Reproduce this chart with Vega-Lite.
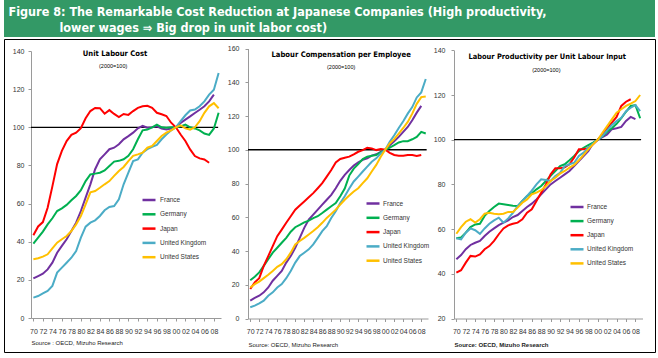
{
"$schema": "https://vega.github.io/schema/vega-lite/v6.json",
"padding": {"left": 3, "top": 0, "right": 4, "bottom": 7},
"background": "white",
"spacing": 1,
"config": {"view": {"stroke": null}, "font": "Liberation Sans"},
"datasets": {
"ulc": [
{"country":"France","year":1970,"value":20.8},{"country":"France","year":1971,"value":22},{"country":"France","year":1972,"value":23.2},{"country":"France","year":1973,"value":25.5},{"country":"France","year":1974,"value":29},{"country":"France","year":1975,"value":34.2},{"country":"France","year":1976,"value":37.8},{"country":"France","year":1977,"value":41.3},{"country":"France","year":1978,"value":45.6},{"country":"France","year":1979,"value":50},
{"country":"France","year":1980,"value":56.1},{"country":"France","year":1981,"value":63.1},{"country":"France","year":1982,"value":70.1},{"country":"France","year":1983,"value":78},{"country":"France","year":1984,"value":83.2},{"country":"France","year":1985,"value":85.8},{"country":"France","year":1986,"value":88.5},{"country":"France","year":1987,"value":89.3},{"country":"France","year":1988,"value":91.1},{"country":"France","year":1989,"value":93.7},
{"country":"France","year":1990,"value":95.4},{"country":"France","year":1991,"value":97.2},{"country":"France","year":1992,"value":99.5},{"country":"France","year":1993,"value":100.7},{"country":"France","year":1994,"value":99.8},{"country":"France","year":1995,"value":100},{"country":"France","year":1996,"value":100.5},{"country":"France","year":1997,"value":99.4},{"country":"France","year":1998,"value":98.8},{"country":"France","year":1999,"value":99.4},
{"country":"France","year":2000,"value":100},{"country":"France","year":2001,"value":102.3},{"country":"France","year":2002,"value":104},{"country":"France","year":2003,"value":105.7},{"country":"France","year":2004,"value":107.5},{"country":"France","year":2005,"value":109.2},{"country":"France","year":2006,"value":111},{"country":"France","year":2007,"value":113.6},{"country":"France","year":2008,"value":117.1},
{"country":"Germany","year":1970,"value":39},{"country":"Germany","year":1971,"value":42.1},{"country":"Germany","year":1972,"value":45.3},{"country":"Germany","year":1973,"value":49.1},{"country":"Germany","year":1974,"value":52.3},{"country":"Germany","year":1975,"value":56.1},{"country":"Germany","year":1976,"value":57.5},{"country":"Germany","year":1977,"value":59.3},{"country":"Germany","year":1978,"value":61.7},{"country":"Germany","year":1979,"value":64},
{"country":"Germany","year":1980,"value":67},{"country":"Germany","year":1981,"value":71.8},{"country":"Germany","year":1982,"value":75.3},{"country":"Germany","year":1983,"value":75.7},{"country":"Germany","year":1984,"value":76.2},{"country":"Germany","year":1985,"value":77.4},{"country":"Germany","year":1986,"value":79.7},{"country":"Germany","year":1987,"value":82},{"country":"Germany","year":1988,"value":82.4},{"country":"Germany","year":1989,"value":83.2},
{"country":"Germany","year":1990,"value":85},{"country":"Germany","year":1991,"value":88.5},{"country":"Germany","year":1992,"value":93.7},{"country":"Germany","year":1993,"value":98.4},{"country":"Germany","year":1994,"value":98.8},{"country":"Germany","year":1995,"value":100},{"country":"Germany","year":1996,"value":101.4},{"country":"Germany","year":1997,"value":100},{"country":"Germany","year":1998,"value":99.7},{"country":"Germany","year":1999,"value":100},
{"country":"Germany","year":2000,"value":100},{"country":"Germany","year":2001,"value":100.5},{"country":"Germany","year":2002,"value":101.4},{"country":"Germany","year":2003,"value":100},{"country":"Germany","year":2004,"value":99.4},{"country":"Germany","year":2005,"value":98.4},{"country":"Germany","year":2006,"value":96.7},{"country":"Germany","year":2007,"value":96},{"country":"Germany","year":2008,"value":99.4},{"country":"Germany","year":2009,"value":107.6},
{"country":"Japan","year":1970,"value":43.4},{"country":"Japan","year":1971,"value":48},{"country":"Japan","year":1972,"value":50.3},{"country":"Japan","year":1973,"value":57.8},{"country":"Japan","year":1974,"value":69},{"country":"Japan","year":1975,"value":80.7},{"country":"Japan","year":1976,"value":87.6},{"country":"Japan","year":1977,"value":92.8},{"country":"Japan","year":1978,"value":96},{"country":"Japan","year":1979,"value":97.2},
{"country":"Japan","year":1980,"value":99.5},{"country":"Japan","year":1981,"value":104.7},{"country":"Japan","year":1982,"value":108.5},{"country":"Japan","year":1983,"value":110.1},{"country":"Japan","year":1984,"value":110},{"country":"Japan","year":1985,"value":107.1},{"country":"Japan","year":1986,"value":109},{"country":"Japan","year":1987,"value":107},{"country":"Japan","year":1988,"value":105.4},{"country":"Japan","year":1989,"value":107},
{"country":"Japan","year":1990,"value":106.5},{"country":"Japan","year":1991,"value":108.5},{"country":"Japan","year":1992,"value":110.2},{"country":"Japan","year":1993,"value":111},{"country":"Japan","year":1994,"value":111.3},{"country":"Japan","year":1995,"value":110.2},{"country":"Japan","year":1996,"value":107.6},{"country":"Japan","year":1997,"value":106.8},{"country":"Japan","year":1998,"value":105.9},{"country":"Japan","year":1999,"value":102.4},
{"country":"Japan","year":2000,"value":100},{"country":"Japan","year":2001,"value":96.2},{"country":"Japan","year":2002,"value":92.8},{"country":"Japan","year":2003,"value":88.4},{"country":"Japan","year":2004,"value":84.9},{"country":"Japan","year":2005,"value":83.7},{"country":"Japan","year":2006,"value":83.1},{"country":"Japan","year":2007,"value":81.4},
{"country":"United Kingdom","year":1970,"value":10.7},{"country":"United Kingdom","year":1971,"value":11.5},{"country":"United Kingdom","year":1972,"value":12.9},{"country":"United Kingdom","year":1973,"value":14.2},{"country":"United Kingdom","year":1974,"value":16.8},{"country":"United Kingdom","year":1975,"value":23.8},{"country":"United Kingdom","year":1976,"value":26.4},{"country":"United Kingdom","year":1977,"value":29},{"country":"United Kingdom","year":1978,"value":31.6},{"country":"United Kingdom","year":1979,"value":35.1},
{"country":"United Kingdom","year":1980,"value":42.1},{"country":"United Kingdom","year":1981,"value":47.9},{"country":"United Kingdom","year":1982,"value":50},{"country":"United Kingdom","year":1983,"value":51.2},{"country":"United Kingdom","year":1984,"value":53.5},{"country":"United Kingdom","year":1985,"value":56.5},{"country":"United Kingdom","year":1986,"value":58.2},{"country":"United Kingdom","year":1987,"value":58.7},{"country":"United Kingdom","year":1988,"value":62.2},{"country":"United Kingdom","year":1989,"value":70.1},
{"country":"United Kingdom","year":1990,"value":76.2},{"country":"United Kingdom","year":1991,"value":82.3},{"country":"United Kingdom","year":1992,"value":83.2},{"country":"United Kingdom","year":1993,"value":86.7},{"country":"United Kingdom","year":1994,"value":88.5},{"country":"United Kingdom","year":1995,"value":89.7},{"country":"United Kingdom","year":1996,"value":90.8},{"country":"United Kingdom","year":1997,"value":93.7},{"country":"United Kingdom","year":1998,"value":96.2},{"country":"United Kingdom","year":1999,"value":98.4},
{"country":"United Kingdom","year":2000,"value":100},{"country":"United Kingdom","year":2001,"value":103.2},{"country":"United Kingdom","year":2002,"value":106.3},{"country":"United Kingdom","year":2003,"value":108.8},{"country":"United Kingdom","year":2004,"value":109.3},{"country":"United Kingdom","year":2005,"value":111},{"country":"United Kingdom","year":2006,"value":113.6},{"country":"United Kingdom","year":2007,"value":117.1},{"country":"United Kingdom","year":2008,"value":119.7},{"country":"United Kingdom","year":2009,"value":128.5},
{"country":"United States","year":1970,"value":30.8},{"country":"United States","year":1971,"value":31.3},{"country":"United States","year":1972,"value":32.2},{"country":"United States","year":1973,"value":33.4},{"country":"United States","year":1974,"value":36.5},{"country":"United States","year":1975,"value":39.5},{"country":"United States","year":1976,"value":41.3},{"country":"United States","year":1977,"value":43},{"country":"United States","year":1978,"value":45.6},{"country":"United States","year":1979,"value":49.1},
{"country":"United States","year":1980,"value":53.5},{"country":"United States","year":1981,"value":59.6},{"country":"United States","year":1982,"value":65.9},{"country":"United States","year":1983,"value":66.6},{"country":"United States","year":1984,"value":68.3},{"country":"United States","year":1985,"value":70.1},{"country":"United States","year":1986,"value":71.8},{"country":"United States","year":1987,"value":74.5},{"country":"United States","year":1988,"value":77.1},{"country":"United States","year":1989,"value":79.2},
{"country":"United States","year":1990,"value":82.3},{"country":"United States","year":1991,"value":85},{"country":"United States","year":1992,"value":85.8},{"country":"United States","year":1993,"value":86.7},{"country":"United States","year":1994,"value":89.3},{"country":"United States","year":1995,"value":90.2},{"country":"United States","year":1996,"value":92.8},{"country":"United States","year":1997,"value":95.4},{"country":"United States","year":1998,"value":97.2},{"country":"United States","year":1999,"value":98.4},
{"country":"United States","year":2000,"value":100},{"country":"United States","year":2001,"value":101},{"country":"United States","year":2002,"value":99.4},{"country":"United States","year":2003,"value":98.8},{"country":"United States","year":2004,"value":100},{"country":"United States","year":2005,"value":103.2},{"country":"United States","year":2006,"value":107.6},{"country":"United States","year":2007,"value":111},{"country":"United States","year":2008,"value":112.7},{"country":"United States","year":2009,"value":110}
],
"comp": [
{"country":"France","year":1970,"value":10.6},{"country":"France","year":1971,"value":12.2},{"country":"France","year":1972,"value":13.5},{"country":"France","year":1973,"value":15.5},{"country":"France","year":1974,"value":18.4},{"country":"France","year":1975,"value":22.4},{"country":"France","year":1976,"value":25.3},{"country":"France","year":1977,"value":28.2},{"country":"France","year":1978,"value":33.1},{"country":"France","year":1979,"value":37},
{"country":"France","year":1980,"value":41.9},{"country":"France","year":1981,"value":47.8},{"country":"France","year":1982,"value":53.7},{"country":"France","year":1983,"value":58.6},{"country":"France","year":1984,"value":61.6},{"country":"France","year":1985,"value":64.5},{"country":"France","year":1986,"value":67.5},{"country":"France","year":1987,"value":70.4},{"country":"France","year":1988,"value":73.3},{"country":"France","year":1989,"value":77.2},
{"country":"France","year":1990,"value":81.6},{"country":"France","year":1991,"value":85.1},{"country":"France","year":1992,"value":88},{"country":"France","year":1993,"value":90.6},{"country":"France","year":1994,"value":92.5},{"country":"France","year":1995,"value":94},{"country":"France","year":1996,"value":94.9},{"country":"France","year":1997,"value":96.5},{"country":"France","year":1998,"value":97.3},{"country":"France","year":1999,"value":98.8},
{"country":"France","year":2000,"value":100},{"country":"France","year":2001,"value":102.7},{"country":"France","year":2002,"value":105.1},{"country":"France","year":2003,"value":107.6},{"country":"France","year":2004,"value":110.6},{"country":"France","year":2005,"value":113.5},{"country":"France","year":2006,"value":117.5},{"country":"France","year":2007,"value":122},{"country":"France","year":2008,"value":126},
{"country":"Germany","year":1970,"value":22.7},{"country":"Germany","year":1971,"value":24.7},{"country":"Germany","year":1972,"value":27.3},{"country":"Germany","year":1973,"value":31.2},{"country":"Germany","year":1974,"value":35.1},{"country":"Germany","year":1975,"value":39},{"country":"Germany","year":1976,"value":41.9},{"country":"Germany","year":1977,"value":44.9},{"country":"Germany","year":1978,"value":47.8},{"country":"Germany","year":1979,"value":51.4},
{"country":"Germany","year":1980,"value":54.1},{"country":"Germany","year":1981,"value":55.5},{"country":"Germany","year":1982,"value":57},{"country":"Germany","year":1983,"value":58},{"country":"Germany","year":1984,"value":59.5},{"country":"Germany","year":1985,"value":60.6},{"country":"Germany","year":1986,"value":62.5},{"country":"Germany","year":1987,"value":64.5},{"country":"Germany","year":1988,"value":66.5},{"country":"Germany","year":1989,"value":68.4},
{"country":"Germany","year":1990,"value":72.4},{"country":"Germany","year":1991,"value":77},{"country":"Germany","year":1992,"value":84.7},{"country":"Germany","year":1993,"value":88.8},{"country":"Germany","year":1994,"value":91.5},{"country":"Germany","year":1995,"value":94.5},{"country":"Germany","year":1996,"value":95.9},{"country":"Germany","year":1997,"value":96.5},{"country":"Germany","year":1998,"value":96.9},{"country":"Germany","year":1999,"value":98.4},
{"country":"Germany","year":2000,"value":100},{"country":"Germany","year":2001,"value":101.2},{"country":"Germany","year":2002,"value":102.7},{"country":"Germany","year":2003,"value":104.3},{"country":"Germany","year":2004,"value":105.1},{"country":"Germany","year":2005,"value":105.1},{"country":"Germany","year":2006,"value":106.2},{"country":"Germany","year":2007,"value":107.6},{"country":"Germany","year":2008,"value":110.6},{"country":"Germany","year":2009,"value":109.6},
{"country":"Japan","year":1970,"value":17.5},{"country":"Japan","year":1971,"value":21.4},{"country":"Japan","year":1972,"value":23.9},{"country":"Japan","year":1973,"value":31.2},{"country":"Japan","year":1974,"value":37},{"country":"Japan","year":1975,"value":42.9},{"country":"Japan","year":1976,"value":48.8},{"country":"Japan","year":1977,"value":52.7},{"country":"Japan","year":1978,"value":56.7},{"country":"Japan","year":1979,"value":60.6},
{"country":"Japan","year":1980,"value":64.5},{"country":"Japan","year":1981,"value":67},{"country":"Japan","year":1982,"value":69.4},{"country":"Japan","year":1983,"value":71.8},{"country":"Japan","year":1984,"value":74.3},{"country":"Japan","year":1985,"value":77.2},{"country":"Japan","year":1986,"value":80.2},{"country":"Japan","year":1987,"value":84.1},{"country":"Japan","year":1988,"value":88},{"country":"Japan","year":1989,"value":92.5},
{"country":"Japan","year":1990,"value":94.5},{"country":"Japan","year":1991,"value":95.3},{"country":"Japan","year":1992,"value":95.9},{"country":"Japan","year":1993,"value":97.3},{"country":"Japan","year":1994,"value":98.8},{"country":"Japan","year":1995,"value":99.8},{"country":"Japan","year":1996,"value":101.2},{"country":"Japan","year":1997,"value":100.8},{"country":"Japan","year":1998,"value":99.8},{"country":"Japan","year":1999,"value":100.4},
{"country":"Japan","year":2000,"value":100},{"country":"Japan","year":2001,"value":98.2},{"country":"Japan","year":2002,"value":96.9},{"country":"Japan","year":2003,"value":96.5},{"country":"Japan","year":2004,"value":96.5},{"country":"Japan","year":2005,"value":96.9},{"country":"Japan","year":2006,"value":96.9},{"country":"Japan","year":2007,"value":96.3},{"country":"Japan","year":2008,"value":96.9},
{"country":"United Kingdom","year":1970,"value":6.7},{"country":"United Kingdom","year":1971,"value":7.6},{"country":"United Kingdom","year":1972,"value":9},{"country":"United Kingdom","year":1973,"value":10.6},{"country":"United Kingdom","year":1974,"value":13.5},{"country":"United Kingdom","year":1975,"value":15.5},{"country":"United Kingdom","year":1976,"value":18.4},{"country":"United Kingdom","year":1977,"value":20.4},{"country":"United Kingdom","year":1978,"value":23.9},{"country":"United Kingdom","year":1979,"value":28.2},
{"country":"United Kingdom","year":1980,"value":33.1},{"country":"United Kingdom","year":1981,"value":37},{"country":"United Kingdom","year":1982,"value":39},{"country":"United Kingdom","year":1983,"value":41},{"country":"United Kingdom","year":1984,"value":43.9},{"country":"United Kingdom","year":1985,"value":47.8},{"country":"United Kingdom","year":1986,"value":51.8},{"country":"United Kingdom","year":1987,"value":54.7},{"country":"United Kingdom","year":1988,"value":59.6},{"country":"United Kingdom","year":1989,"value":63.5},
{"country":"United Kingdom","year":1990,"value":68.4},{"country":"United Kingdom","year":1991,"value":72.4},{"country":"United Kingdom","year":1992,"value":77},{"country":"United Kingdom","year":1993,"value":81.2},{"country":"United Kingdom","year":1994,"value":84.1},{"country":"United Kingdom","year":1995,"value":87.1},{"country":"United Kingdom","year":1996,"value":90},{"country":"United Kingdom","year":1997,"value":92.9},{"country":"United Kingdom","year":1998,"value":94.9},{"country":"United Kingdom","year":1999,"value":97.8},
{"country":"United Kingdom","year":2000,"value":100},{"country":"United Kingdom","year":2001,"value":104.7},{"country":"United Kingdom","year":2002,"value":108.6},{"country":"United Kingdom","year":2003,"value":112.9},{"country":"United Kingdom","year":2004,"value":116.9},{"country":"United Kingdom","year":2005,"value":121.4},{"country":"United Kingdom","year":2006,"value":125.3},{"country":"United Kingdom","year":2007,"value":131},{"country":"United Kingdom","year":2008,"value":134},{"country":"United Kingdom","year":2009,"value":141.9},
{"country":"United States","year":1970,"value":18.4},{"country":"United States","year":1971,"value":20.4},{"country":"United States","year":1972,"value":21.9},{"country":"United States","year":1973,"value":23.9},{"country":"United States","year":1974,"value":25.9},{"country":"United States","year":1975,"value":28.2},{"country":"United States","year":1976,"value":30.6},{"country":"United States","year":1977,"value":32.2},{"country":"United States","year":1978,"value":35.1},{"country":"United States","year":1979,"value":39},
{"country":"United States","year":1980,"value":43.9},{"country":"United States","year":1981,"value":45.9},{"country":"United States","year":1982,"value":47.8},{"country":"United States","year":1983,"value":49.8},{"country":"United States","year":1984,"value":51.8},{"country":"United States","year":1985,"value":54.1},{"country":"United States","year":1986,"value":56.7},{"country":"United States","year":1987,"value":59.6},{"country":"United States","year":1988,"value":62},{"country":"United States","year":1989,"value":64.5},
{"country":"United States","year":1990,"value":67.5},{"country":"United States","year":1991,"value":70.4},{"country":"United States","year":1992,"value":72.9},{"country":"United States","year":1993,"value":75.3},{"country":"United States","year":1994,"value":77.2},{"country":"United States","year":1995,"value":80.2},{"country":"United States","year":1996,"value":83.1},{"country":"United States","year":1997,"value":87.1},{"country":"United States","year":1998,"value":91},{"country":"United States","year":1999,"value":95.9},
{"country":"United States","year":2000,"value":100},{"country":"United States","year":2001,"value":103.7},{"country":"United States","year":2002,"value":106.3},{"country":"United States","year":2003,"value":109.6},{"country":"United States","year":2004,"value":112.9},{"country":"United States","year":2005,"value":116.5},{"country":"United States","year":2006,"value":121.4},{"country":"United States","year":2007,"value":127.2},{"country":"United States","year":2008,"value":131.2},{"country":"United States","year":2009,"value":131.6}
],
"prod": [
{"country":"France","year":1970,"value":46.5},{"country":"France","year":1971,"value":48.4},{"country":"France","year":1972,"value":51},{"country":"France","year":1973,"value":52.9},{"country":"France","year":1974,"value":53.9},{"country":"France","year":1975,"value":54.7},{"country":"France","year":1976,"value":56.9},{"country":"France","year":1977,"value":58.8},{"country":"France","year":1978,"value":60.3},{"country":"France","year":1979,"value":61.8},
{"country":"France","year":1980,"value":62.9},{"country":"France","year":1981,"value":63.9},{"country":"France","year":1982,"value":65.4},{"country":"France","year":1983,"value":66.3},{"country":"France","year":1984,"value":68.1},{"country":"France","year":1985,"value":69.9},{"country":"France","year":1986,"value":71.4},{"country":"France","year":1987,"value":73.3},{"country":"France","year":1988,"value":75.6},{"country":"France","year":1989,"value":77.8},
{"country":"France","year":1990,"value":80},{"country":"France","year":1991,"value":81.5},{"country":"France","year":1992,"value":83},{"country":"France","year":1993,"value":84.5},{"country":"France","year":1994,"value":86},{"country":"France","year":1995,"value":88.2},{"country":"France","year":1996,"value":90.4},{"country":"France","year":1997,"value":92.7},{"country":"France","year":1998,"value":94.9},{"country":"France","year":1999,"value":98.3},
{"country":"France","year":2000,"value":100},{"country":"France","year":2001,"value":101.2},{"country":"France","year":2002,"value":102.4},{"country":"France","year":2003,"value":104.7},{"country":"France","year":2004,"value":105.1},{"country":"France","year":2005,"value":105.7},{"country":"France","year":2006,"value":108.4},{"country":"France","year":2007,"value":110.2},{"country":"France","year":2008,"value":109.2},
{"country":"Germany","year":1970,"value":55.9},{"country":"Germany","year":1971,"value":56.3},{"country":"Germany","year":1972,"value":58.4},{"country":"Germany","year":1973,"value":60.9},{"country":"Germany","year":1974,"value":62.1},{"country":"Germany","year":1975,"value":62.4},{"country":"Germany","year":1976,"value":65.9},{"country":"Germany","year":1977,"value":68.1},{"country":"Germany","year":1978,"value":69.9},{"country":"Germany","year":1979,"value":71.4},
{"country":"Germany","year":1980,"value":71.1},{"country":"Germany","year":1981,"value":70.8},{"country":"Germany","year":1982,"value":70.5},{"country":"Germany","year":1983,"value":70.3},{"country":"Germany","year":1984,"value":72.6},{"country":"Germany","year":1985,"value":74.8},{"country":"Germany","year":1986,"value":76},{"country":"Germany","year":1987,"value":77.8},{"country":"Germany","year":1988,"value":79.3},{"country":"Germany","year":1989,"value":81.5},
{"country":"Germany","year":1990,"value":83.8},{"country":"Germany","year":1991,"value":86},{"country":"Germany","year":1992,"value":88.2},{"country":"Germany","year":1993,"value":89},{"country":"Germany","year":1994,"value":90.8},{"country":"Germany","year":1995,"value":92.7},{"country":"Germany","year":1996,"value":94.9},{"country":"Germany","year":1997,"value":96.4},{"country":"Germany","year":1998,"value":97.6},{"country":"Germany","year":1999,"value":98.7},
{"country":"Germany","year":2000,"value":100},{"country":"Germany","year":2001,"value":101.6},{"country":"Germany","year":2002,"value":103.6},{"country":"Germany","year":2003,"value":105.1},{"country":"Germany","year":2004,"value":107.1},{"country":"Germany","year":2005,"value":109.6},{"country":"Germany","year":2006,"value":112.5},{"country":"Germany","year":2007,"value":115.1},{"country":"Germany","year":2008,"value":115.5},{"country":"Germany","year":2009,"value":109.6},
{"country":"Japan","year":1970,"value":40.5},{"country":"Japan","year":1971,"value":41.6},{"country":"Japan","year":1972,"value":45},{"country":"Japan","year":1973,"value":48},{"country":"Japan","year":1974,"value":47.7},{"country":"Japan","year":1975,"value":48.7},{"country":"Japan","year":1976,"value":51},{"country":"Japan","year":1977,"value":52.4},{"country":"Japan","year":1978,"value":54.7},{"country":"Japan","year":1979,"value":57.7},
{"country":"Japan","year":1980,"value":60.3},{"country":"Japan","year":1981,"value":61.7},{"country":"Japan","year":1982,"value":62.4},{"country":"Japan","year":1983,"value":62.9},{"country":"Japan","year":1984,"value":64.4},{"country":"Japan","year":1985,"value":67.3},{"country":"Japan","year":1986,"value":68.9},{"country":"Japan","year":1987,"value":72.6},{"country":"Japan","year":1988,"value":76.3},{"country":"Japan","year":1989,"value":80},
{"country":"Japan","year":1990,"value":84.5},{"country":"Japan","year":1991,"value":87.2},{"country":"Japan","year":1992,"value":87.2},{"country":"Japan","year":1993,"value":87.6},{"country":"Japan","year":1994,"value":89},{"country":"Japan","year":1995,"value":92},{"country":"Japan","year":1996,"value":95.7},{"country":"Japan","year":1997,"value":95.7},{"country":"Japan","year":1998,"value":96.2},{"country":"Japan","year":1999,"value":98},
{"country":"Japan","year":2000,"value":100},{"country":"Japan","year":2001,"value":102.4},{"country":"Japan","year":2002,"value":105.1},{"country":"Japan","year":2003,"value":107.6},{"country":"Japan","year":2004,"value":110.2},{"country":"Japan","year":2005,"value":115.1},{"country":"Japan","year":2006,"value":117},{"country":"Japan","year":2007,"value":118.1},
{"country":"United Kingdom","year":1970,"value":55.9},{"country":"United Kingdom","year":1971,"value":55.4},{"country":"United Kingdom","year":1972,"value":58.4},{"country":"United Kingdom","year":1973,"value":60.3},{"country":"United Kingdom","year":1974,"value":59.5},{"country":"United Kingdom","year":1975,"value":57.9},{"country":"United Kingdom","year":1976,"value":60.3},{"country":"United Kingdom","year":1977,"value":62.4},{"country":"United Kingdom","year":1978,"value":63.9},{"country":"United Kingdom","year":1979,"value":65.1},
{"country":"United Kingdom","year":1980,"value":62.9},{"country":"United Kingdom","year":1981,"value":64.8},{"country":"United Kingdom","year":1982,"value":67.3},{"country":"United Kingdom","year":1983,"value":70.3},{"country":"United Kingdom","year":1984,"value":72.6},{"country":"United Kingdom","year":1985,"value":74.8},{"country":"United Kingdom","year":1986,"value":77.2},{"country":"United Kingdom","year":1987,"value":80},{"country":"United Kingdom","year":1988,"value":82.3},{"country":"United Kingdom","year":1989,"value":82},
{"country":"United Kingdom","year":1990,"value":81.5},{"country":"United Kingdom","year":1991,"value":83.8},{"country":"United Kingdom","year":1992,"value":85.2},{"country":"United Kingdom","year":1993,"value":88.2},{"country":"United Kingdom","year":1994,"value":89},{"country":"United Kingdom","year":1995,"value":89.7},{"country":"United Kingdom","year":1996,"value":92.7},{"country":"United Kingdom","year":1997,"value":94.2},{"country":"United Kingdom","year":1998,"value":96.4},{"country":"United Kingdom","year":1999,"value":98.3},
{"country":"United Kingdom","year":2000,"value":100},{"country":"United Kingdom","year":2001,"value":101.6},{"country":"United Kingdom","year":2002,"value":104.2},{"country":"United Kingdom","year":2003,"value":106.6},{"country":"United Kingdom","year":2004,"value":108.4},{"country":"United Kingdom","year":2005,"value":109.8},{"country":"United Kingdom","year":2006,"value":112.8},{"country":"United Kingdom","year":2007,"value":114.3},{"country":"United Kingdom","year":2008,"value":115.5},{"country":"United Kingdom","year":2009,"value":112.8},
{"country":"United States","year":1970,"value":57.9},{"country":"United States","year":1971,"value":60.9},{"country":"United States","year":1972,"value":63.3},{"country":"United States","year":1973,"value":64.4},{"country":"United States","year":1974,"value":62.9},{"country":"United States","year":1975,"value":64.4},{"country":"United States","year":1976,"value":66.9},{"country":"United States","year":1977,"value":67.3},{"country":"United States","year":1978,"value":66.9},{"country":"United States","year":1979,"value":66.7},
{"country":"United States","year":1980,"value":66.9},{"country":"United States","year":1981,"value":67.7},{"country":"United States","year":1982,"value":67.7},{"country":"United States","year":1983,"value":69.6},{"country":"United States","year":1984,"value":71.8},{"country":"United States","year":1985,"value":73.3},{"country":"United States","year":1986,"value":75.6},{"country":"United States","year":1987,"value":76.3},{"country":"United States","year":1988,"value":77.4},{"country":"United States","year":1989,"value":79.3},
{"country":"United States","year":1990,"value":81.5},{"country":"United States","year":1991,"value":83},{"country":"United States","year":1992,"value":84.8},{"country":"United States","year":1993,"value":86},{"country":"United States","year":1994,"value":87.5},{"country":"United States","year":1995,"value":88.7},{"country":"United States","year":1996,"value":90.8},{"country":"United States","year":1997,"value":93.2},{"country":"United States","year":1998,"value":95.7},{"country":"United States","year":1999,"value":97.9},
{"country":"United States","year":2000,"value":100},{"country":"United States","year":2001,"value":103.1},{"country":"United States","year":2002,"value":106.1},{"country":"United States","year":2003,"value":109.1},{"country":"United States","year":2004,"value":112.1},{"country":"United States","year":2005,"value":113.6},{"country":"United States","year":2006,"value":115.1},{"country":"United States","year":2007,"value":116.1},{"country":"United States","year":2008,"value":117.3},{"country":"United States","year":2009,"value":120}
]
},
"vconcat": [
{
"width": 651, "height": 37,
"view": {"fill": "#339966", "stroke": null},
"layer": [
{"data": {"values": [{"t": "Figure 8: The Remarkable  Cost Reduction at Japanese Companies (High productivity,"}]},
 "mark": {"type": "text", "align": "left", "baseline": "alphabetic", "dx": -321, "dy": -3, "font": "DejaVu Sans Condensed, sans-serif", "fontSize": 12.5, "fontWeight": "bold", "color": "white"},
 "encoding": {"text": {"field": "t", "type": "nominal"}}},
{"data": {"values": [{"t": "lower wages ⇒ Big drop in unit labor cost)"}]},
 "mark": {"type": "text", "align": "left", "baseline": "alphabetic", "dx": -270, "dy": 13.5, "font": "DejaVu Sans Condensed, sans-serif", "fontSize": 12.5, "fontWeight": "bold", "color": "white"},
 "encoding": {"text": {"field": "t", "type": "nominal"}}}
]
},
{
"width": 651, "height": 313,
"view": {"stroke": "black", "strokeWidth": 1, "fill": "white"},
"resolve": {"scale": {"x": "independent", "y": "independent", "color": "independent"}, "axis": {"x": "independent", "y": "independent"}, "legend": {"color": "independent"}},
"layer": [
{"data": {"values": [{"ref": 100}]}, "mark": {"type": "rule", "color": "black", "strokeWidth": 1.3},
 "encoding": {
  "y": {"field": "ref", "type": "quantitative", "scale": {"domain": [0, 140], "range": [279, 12], "zero": false, "nice": false}, "axis": null},
  "x": {"datum": 1969.5, "type": "quantitative", "scale": {"domain": [1969.5, 2009.5], "range": [27, 217], "zero": false, "nice": false}, "axis": null},
  "x2": {"datum": 2008.9}}},
{"data": {"name": "ulc"}, "mark": {"type": "line", "strokeWidth": 2},
 "encoding": {
  "x": {"field": "year", "type": "quantitative", "scale": {"domain": [1969.5, 2009.5], "range": [27, 217], "zero": false, "nice": false},
   "axis": {"orient": "bottom", "offset": -34, "values": [1970,1972,1974,1976,1978,1980,1982,1984,1986,1988,1990,1992,1994,1996,1998,2000,2002,2004,2006,2008], "labelExpr": "substring(toString(datum.value), 2, 4)", "labelOverlap": false, "labelBound": false, "labelFlush": false, "grid": false, "domainColor": "#9A9A9A", "tickColor": "#9A9A9A", "tickSize": 3, "labelFontSize": 7, "labelPadding": 6, "labelColor": "#333333", "title": "Source : OECD, Mizuho Research", "titleFontSize": 6, "titleFontWeight": "normal", "titleColor": "#222222", "titleAnchor": "start", "titleAlign": "left", "titlePadding": 5}},
  "y": {"field": "value", "type": "quantitative", "scale": {"domain": [0, 140], "range": [279, 12], "zero": false, "nice": false},
   "axis": {"orient": "left", "offset": -27, "values": [0,20,40,60,80,100,120,140], "title": null, "grid": false, "domainColor": "#9A9A9A", "tickColor": "#9A9A9A", "tickSize": 3, "labelFontSize": 7, "labelColor": "#333333", "labelPadding": 4}},
  "color": {"field": "country", "type": "nominal", "scale": {"domain": ["France","Germany","Japan","United Kingdom","United States"], "range": ["#7030A0","#00B050","#FF0000","#4BACC6","#FFC000"]},
   "legend": {"orient": "none", "legendX": 137, "legendY": 153, "title": null, "symbolType": "stroke", "symbolSize": 169, "symbolStrokeWidth": 2.5, "labelFontSize": 6.5, "labelColor": "#333333", "rowPadding": 1.3, "labelOffset": 3, "padding": 0}}}},
{"data": {"values": [{"label": "Unit Labour Cost"}]}, "mark": {"type": "text", "fontWeight": "bold", "fontSize": 7.6, "font": "DejaVu Sans Condensed, sans-serif", "baseline": "middle", "color": "black"},
 "encoding": {
  "x": {"datum": 1987.2, "type": "quantitative", "scale": {"domain": [1969.5, 2009.5], "range": [27, 217], "zero": false, "nice": false}, "axis": null},
  "y": {"datum": 138.4, "type": "quantitative", "scale": {"domain": [0, 140], "range": [279, 12], "zero": false, "nice": false}, "axis": null},
  "text": {"field": "label", "type": "nominal"}}},
{"data": {"values": [{"label": "(2000=100)"}]}, "mark": {"type": "text", "fontSize": 5.5, "baseline": "middle", "color": "black"},
 "encoding": {
  "x": {"datum": 1986.8, "type": "quantitative", "scale": {"domain": [1969.5, 2009.5], "range": [27, 217], "zero": false, "nice": false}, "axis": null},
  "y": {"datum": 132.1, "type": "quantitative", "scale": {"domain": [0, 140], "range": [279, 12], "zero": false, "nice": false}, "axis": null},
  "text": {"field": "label", "type": "nominal"}}},
{"data": {"values": [{"ref": 100}]}, "mark": {"type": "rule", "color": "black", "strokeWidth": 1.3},
 "encoding": {
  "y": {"field": "ref", "type": "quantitative", "scale": {"domain": [0, 160], "range": [279.5, 9.5], "zero": false, "nice": false}, "axis": null},
  "x": {"datum": 1969.5, "type": "quantitative", "scale": {"domain": [1969.5, 2009.5], "range": [244, 424], "zero": false, "nice": false}, "axis": null},
  "x2": {"datum": 2009.2}}},
{"data": {"name": "comp"}, "mark": {"type": "line", "strokeWidth": 2},
 "encoding": {
  "x": {"field": "year", "type": "quantitative", "scale": {"domain": [1969.5, 2009.5], "range": [244, 424], "zero": false, "nice": false},
   "axis": {"orient": "bottom", "offset": -33.5, "values": [1970,1972,1974,1976,1978,1980,1982,1984,1986,1988,1990,1992,1994,1996,1998,2000,2002,2004,2006,2008], "labelExpr": "substring(toString(datum.value), 2, 4)", "labelOverlap": false, "labelBound": false, "labelFlush": false, "grid": false, "domainColor": "#9A9A9A", "tickColor": "#9A9A9A", "tickSize": 3, "labelFontSize": 7, "labelPadding": 6, "labelColor": "#333333", "title": "Source: OECD, Mizuho Research", "titleFontSize": 6, "titleFontWeight": "normal", "titleColor": "#222222", "titleAnchor": "start", "titleAlign": "left", "titlePadding": 7}},
  "y": {"field": "value", "type": "quantitative", "scale": {"domain": [0, 160], "range": [279.5, 9.5], "zero": false, "nice": false},
   "axis": {"orient": "left", "offset": -244, "values": [0,20,40,60,80,100,120,140,160], "title": null, "grid": false, "domainColor": "#9A9A9A", "tickColor": "#9A9A9A", "tickSize": 3, "labelFontSize": 7, "labelColor": "#333333", "labelPadding": 6}},
  "color": {"field": "country", "type": "nominal", "scale": {"domain": ["France","Germany","Japan","United Kingdom","United States"], "range": ["#7030A0","#00B050","#FF0000","#4BACC6","#FFC000"]},
   "legend": {"orient": "none", "legendX": 361, "legendY": 156.5, "title": null, "symbolType": "stroke", "symbolSize": 169, "symbolStrokeWidth": 2.5, "labelFontSize": 6.5, "labelColor": "#333333", "rowPadding": 1.3, "labelOffset": 2, "padding": 0}}}},
{"data": {"values": [{"label": "Labour Compensation per Employee"}]}, "mark": {"type": "text", "fontWeight": "bold", "fontSize": 7.6, "font": "DejaVu Sans Condensed, sans-serif", "baseline": "middle", "color": "black"},
 "encoding": {
  "x": {"datum": 1990.2, "type": "quantitative", "scale": {"domain": [1969.5, 2009.5], "range": [244, 424], "zero": false, "nice": false}, "axis": null},
  "y": {"datum": 156.1, "type": "quantitative", "scale": {"domain": [0, 160], "range": [279.5, 9.5], "zero": false, "nice": false}, "axis": null},
  "text": {"field": "label", "type": "nominal"}}},
{"data": {"values": [{"label": "(2000=100)"}]}, "mark": {"type": "text", "fontSize": 5.5, "baseline": "middle", "color": "black"},
 "encoding": {
  "x": {"datum": 1990.2, "type": "quantitative", "scale": {"domain": [1969.5, 2009.5], "range": [244, 424], "zero": false, "nice": false}, "axis": null},
  "y": {"datum": 149, "type": "quantitative", "scale": {"domain": [0, 160], "range": [279.5, 9.5], "zero": false, "nice": false}, "axis": null},
  "text": {"field": "label", "type": "nominal"}}},
{"data": {"values": [{"ref": 100}]}, "mark": {"type": "rule", "color": "black", "strokeWidth": 1.3},
 "encoding": {
  "y": {"field": "ref", "type": "quantitative", "scale": {"domain": [20, 140], "range": [279.5, 11.3], "zero": false, "nice": false}, "axis": null},
  "x": {"datum": 1969.5, "type": "quantitative", "scale": {"domain": [1969.5, 2009.5], "range": [450, 638.5], "zero": false, "nice": false}, "axis": null},
  "x2": {"datum": 2009.2}}},
{"data": {"name": "prod"}, "mark": {"type": "line", "strokeWidth": 2},
 "encoding": {
  "x": {"field": "year", "type": "quantitative", "scale": {"domain": [1969.5, 2009.5], "range": [450, 638.5], "zero": false, "nice": false},
   "axis": {"orient": "bottom", "offset": -33.5, "values": [1970,1972,1974,1976,1978,1980,1982,1984,1986,1988,1990,1992,1994,1996,1998,2000,2002,2004,2006,2008], "labelExpr": "substring(toString(datum.value), 2, 4)", "labelOverlap": false, "labelBound": false, "labelFlush": false, "grid": false, "domainColor": "#9A9A9A", "tickColor": "#9A9A9A", "tickSize": 3, "labelFontSize": 7, "labelPadding": 6, "labelColor": "#333333", "title": "Source: OECD, Mizuho Research", "titleFontSize": 6, "titleFontWeight": "bold", "titleColor": "#222222", "titleAnchor": "start", "titleAlign": "left", "titlePadding": 7}},
  "y": {"field": "value", "type": "quantitative", "scale": {"domain": [20, 140], "range": [279.5, 11.3], "zero": false, "nice": false},
   "axis": {"orient": "left", "offset": -450, "values": [20,40,60,80,100,120,140], "title": null, "grid": false, "domainColor": "#9A9A9A", "tickColor": "#9A9A9A", "tickSize": 3, "labelFontSize": 7, "labelColor": "#333333", "labelPadding": 6}},
  "color": {"field": "country", "type": "nominal", "scale": {"domain": ["France","Germany","Japan","United Kingdom","United States"], "range": ["#7030A0","#00B050","#FF0000","#4BACC6","#FFC000"]},
   "legend": {"orient": "none", "legendX": 565, "legendY": 160, "title": null, "symbolType": "stroke", "symbolSize": 169, "symbolStrokeWidth": 2.5, "labelFontSize": 6.5, "labelColor": "#333333", "rowPadding": 1.1, "labelOffset": 2, "padding": 0}}}},
{"data": {"values": [{"label": "Labour Productivity per Unit Labour Input"}]}, "mark": {"type": "text", "fontWeight": "bold", "fontSize": 7.4, "font": "DejaVu Sans Condensed, sans-serif", "baseline": "middle", "color": "black"},
 "encoding": {
  "x": {"datum": 1989.3, "type": "quantitative", "scale": {"domain": [1969.5, 2009.5], "range": [450, 638.5], "zero": false, "nice": false}, "axis": null},
  "y": {"datum": 137, "type": "quantitative", "scale": {"domain": [20, 140], "range": [279.5, 11.3], "zero": false, "nice": false}, "axis": null},
  "text": {"field": "label", "type": "nominal"}}},
{"data": {"values": [{"label": "(2000=100)"}]}, "mark": {"type": "text", "fontSize": 5.5, "baseline": "middle", "color": "black"},
 "encoding": {
  "x": {"datum": 1989.1, "type": "quantitative", "scale": {"domain": [1969.5, 2009.5], "range": [450, 638.5], "zero": false, "nice": false}, "axis": null},
  "y": {"datum": 131.2, "type": "quantitative", "scale": {"domain": [20, 140], "range": [279.5, 11.3], "zero": false, "nice": false}, "axis": null},
  "text": {"field": "label", "type": "nominal"}}}
]
}
]
}
